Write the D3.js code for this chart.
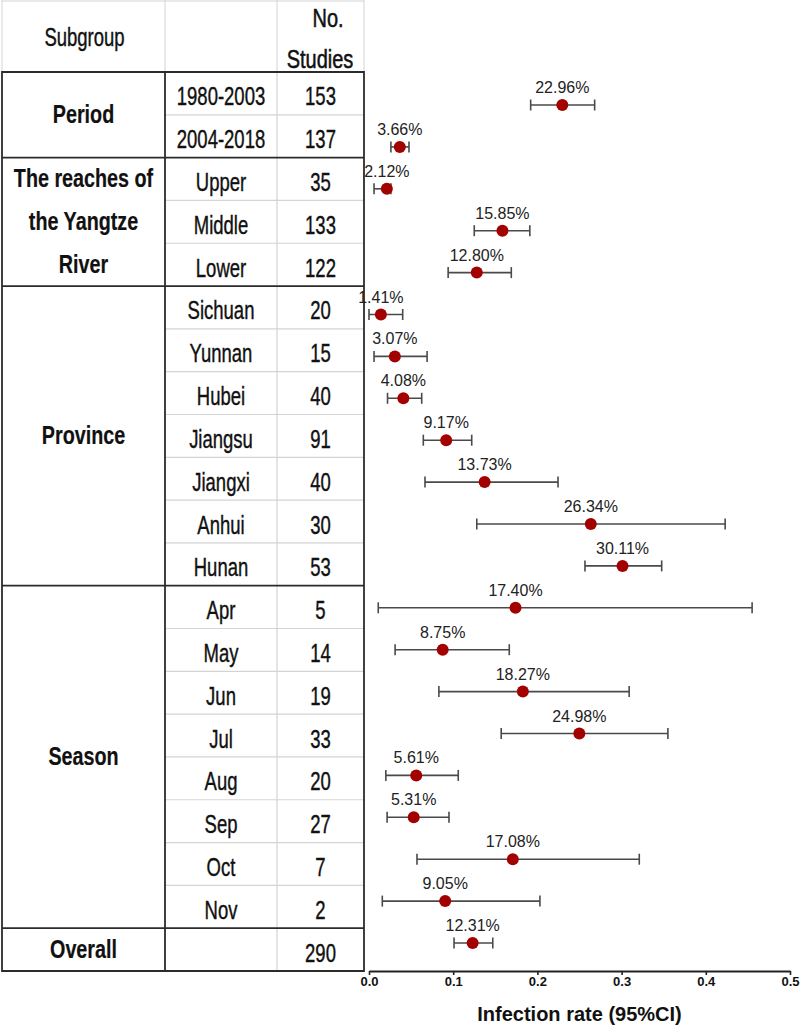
<!DOCTYPE html>
<html>
<head>
<meta charset="utf-8">
<script src="https://cdn.jsdelivr.net/npm/d3@7/dist/d3.min.js"></script>
<style>
  html, body { margin: 0; padding: 0; background: #ffffff; }
  svg { display: block; }
</style>
</head>
<body>
<svg id="chart" width="800" height="1029"></svg>
<script>
// ---------------- data ----------------
const groupNames = ["Period", "The reaches of|the Yangtze|River", "Province", "Season", "Overall"];
const groupSizes = [2, 3, 7, 8, 1];
const subgroups = ["1980-2003", "2004-2018", "Upper", "Middle", "Lower",
  "Sichuan", "Yunnan", "Hubei", "Jiangsu", "Jiangxi", "Anhui", "Hunan",
  "Apr", "May", "Jun", "Jul", "Aug", "Sep", "Oct", "Nov", ""];
const studies = [153, 137, 35, 133, 122, 20, 15, 40, 91, 40, 30, 53, 5, 14, 19, 33, 20, 27, 7, 2, 290];
const rates = [0.2296, 0.0366, 0.0212, 0.1585, 0.1280, 0.0141, 0.0307, 0.0408, 0.0917, 0.1373, 0.2634, 0.3011,
  0.1740, 0.0875, 0.1827, 0.2498, 0.0561, 0.0531, 0.1708, 0.0905, 0.1231];
const lower = [0.192, 0.026, 0.006, 0.125, 0.094, 0.000, 0.006, 0.022, 0.0645, 0.0665, 0.128, 0.2565,
  0.011, 0.031, 0.083, 0.157, 0.020, 0.0215, 0.057, 0.0158, 0.101];
const upper = [0.268, 0.0475, 0.026, 0.191, 0.169, 0.040, 0.069, 0.0626, 0.122, 0.2245, 0.423, 0.3476,
  0.455, 0.1666, 0.309, 0.355, 0.106, 0.095, 0.321, 0.203, 0.147];
const xTicks = [0.0, 0.1, 0.2, 0.3, 0.4, 0.5];
const headers = ["Subgroup", "", "No.|Studies"];
const xTitle = "Infection rate (95%CI)";

// ---------------- layout ----------------
const svg = d3.select("#chart");
const nRows = subgroups.length;
const colX = [2, 165, 277, 364];
const headerBottom = 72;
const tableBottom = 971;
const rowY = d3.scaleLinear().domain([0, nRows]).range([headerBottom, tableBottom]);
const x = d3.scaleLinear().domain([0, 0.5]).range([369, 790]);
const y = d3.scalePoint().domain(d3.range(nRows)).range([105, 943]);

const dark = "#2b2b2b", light = "#d4d4d4";
const FONT = "'Liberation Sans', Arial, sans-serif";

// group boundaries
const groupStarts = [];
let acc = 0;
groupSizes.forEach(s => { groupStarts.push(acc); acc += s; });
const groupBoundaries = new Set(groupStarts.concat([nRows]));

const table = svg.append("g");

// header light lines
table.append("line").attr("x1", colX[0]).attr("x2", colX[3]).attr("y1", 1).attr("y2", 1)
  .attr("stroke", light).attr("stroke-width", 1);
[0, 1, 2, 3].forEach(i => {
  table.append("line").attr("x1", colX[i]).attr("x2", colX[i]).attr("y1", 0).attr("y2", headerBottom)
    .attr("stroke", light).attr("stroke-width", 1);
});

// inner light row lines (within groups), in cols 2-3
d3.range(1, nRows).filter(i => !groupBoundaries.has(i)).forEach(i => {
  table.append("line").attr("x1", colX[1]).attr("x2", colX[3])
    .attr("y1", rowY(i)).attr("y2", rowY(i))
    .attr("stroke", light).attr("stroke-width", 1.2);
});
// column 2/3 light separator
table.append("line").attr("x1", colX[2]).attr("x2", colX[2]).attr("y1", headerBottom).attr("y2", tableBottom)
  .attr("stroke", light).attr("stroke-width", 1.2);

// dark group lines
Array.from(groupBoundaries).forEach(i => {
  table.append("line").attr("x1", colX[0]).attr("x2", colX[3])
    .attr("y1", rowY(i)).attr("y2", rowY(i))
    .attr("stroke", dark).attr("stroke-width", 1.8);
});
// dark verticals
[0, 1, 3].forEach(c => {
  table.append("line").attr("x1", colX[c]).attr("x2", colX[c])
    .attr("y1", headerBottom - 0.9).attr("y2", tableBottom + 0.9)
    .attr("stroke", dark).attr("stroke-width", 1.8);
});

// text helper with horizontal condensation
function condText(g, str, cx, baseY, size, weight, sx, strokeW) {
  g.append("text")
    .attr("transform", `translate(${cx},${baseY}) scale(${sx},1)`)
    .attr("text-anchor", "middle")
    .attr("font-family", FONT)
    .attr("font-size", size)
    .attr("font-weight", weight)
    .attr("fill", "#111")
    .attr("stroke", "#111")
    .attr("stroke-width", strokeW)
    .text(str);
}

// headers
condText(table, headers[0], (colX[0] + colX[1]) / 2 + 1, 46, 25, "normal", 0.74, 0.4);
const h3 = headers[2].split("|");
condText(table, h3[0], 328, 27, 25, "normal", 0.8, 0.5);
condText(table, h3[1], 320, 68, 25, "normal", 0.8, 0.5);

// group labels
groupNames.forEach((name, gi) => {
  const lines = name.split("|");
  const s = groupStarts[gi], n = groupSizes[gi];
  const mid = (rowY(s) + rowY(s + n)) / 2;
  const step = rowY(1) - rowY(0);
  lines.forEach((ln, li) => {
    const cy = mid + (li - (lines.length - 1) / 2) * step;
    condText(table, ln, (colX[0] + colX[1]) / 2, cy + 8, 26, "bold", 0.76, 0.2);
  });
});

// subgroup and studies
subgroups.forEach((sg, i) => {
  const cy = (rowY(i) + rowY(i + 1)) / 2;
  if (sg) condText(table, sg, (colX[1] + colX[2]) / 2, cy + 12, 25, "normal", 0.74, 0.4);
  condText(table, String(studies[i]), (colX[2] + colX[3]) / 2, cy + 12, 25, "normal", 0.74, 0.4);
});

// ---------------- forest plot ----------------
const plot = svg.append("g");
const idx = d3.range(nRows);
const barColor = "#4a4a4a";

plot.selectAll("line.ci").data(idx).join("line")
  .attr("class", "ci")
  .attr("x1", i => x(lower[i])).attr("x2", i => x(upper[i]))
  .attr("y1", i => y(i)).attr("y2", i => y(i))
  .attr("stroke", barColor).attr("stroke-width", 1.6);
plot.selectAll("line.capL").data(idx).join("line")
  .attr("class", "capL")
  .attr("x1", i => x(lower[i])).attr("x2", i => x(lower[i]))
  .attr("y1", i => y(i) - 5.5).attr("y2", i => y(i) + 5.5)
  .attr("stroke", barColor).attr("stroke-width", 1.6);
plot.selectAll("line.capR").data(idx).join("line")
  .attr("class", "capR")
  .attr("x1", i => x(upper[i])).attr("x2", i => x(upper[i]))
  .attr("y1", i => y(i) - 5.5).attr("y2", i => y(i) + 5.5)
  .attr("stroke", barColor).attr("stroke-width", 1.6);
plot.selectAll("circle.pt").data(idx).join("circle")
  .attr("class", "pt")
  .attr("cx", i => x(rates[i])).attr("cy", i => y(i)).attr("r", 6)
  .attr("fill", "#a30000");
plot.selectAll("text.val").data(idx).join("text")
  .attr("class", "val")
  .attr("x", i => x(rates[i])).attr("y", i => y(i) - 12)
  .attr("text-anchor", "middle")
  .attr("font-family", FONT).attr("font-size", 16).attr("fill", "#222")
  .text(i => (rates[i] * 100).toFixed(2) + "%");

// x axis
const axis = d3.axisBottom(x).tickValues(xTicks).tickFormat(d3.format(".1f")).tickSize(4).tickSizeOuter(0);
const ax = svg.append("g").attr("transform", `translate(0,${tableBottom})`).call(axis);
ax.select(".domain").attr("stroke", "#222").attr("stroke-width", 2);
ax.selectAll(".tick line").attr("stroke", "#222").attr("stroke-width", 1.6);
ax.selectAll(".tick text").attr("font-family", FONT).attr("font-size", 13)
  .attr("font-weight", "bold").attr("fill", "#111").attr("y", 6);

svg.append("text")
  .attr("x", (x(0) + x(0.5)) / 2).attr("y", 1021)
  .attr("text-anchor", "middle")
  .attr("font-family", FONT).attr("font-size", 20).attr("font-weight", "bold").attr("fill", "#111")
  .text(xTitle);
</script>
</body>
</html>
